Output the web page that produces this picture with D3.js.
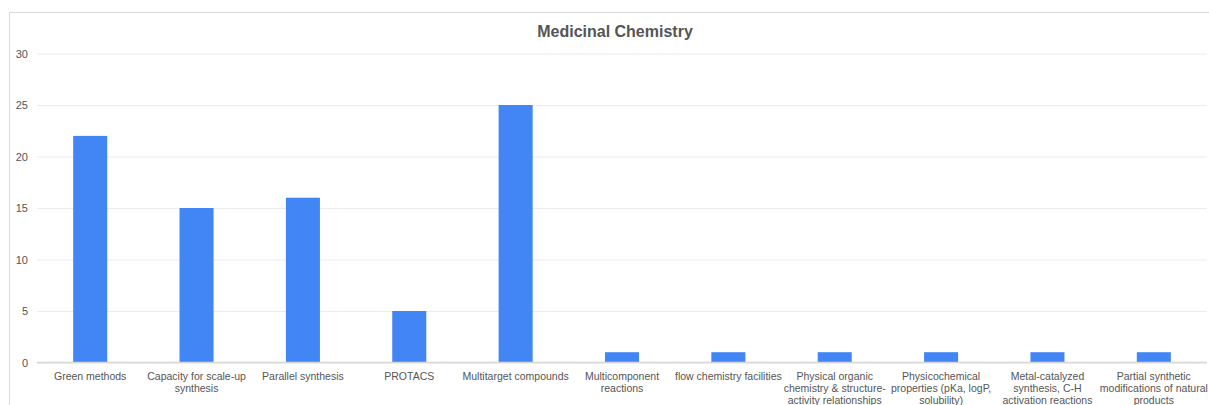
<!DOCTYPE html>
<html><head><meta charset="utf-8">
<script src="https://cdn.jsdelivr.net/npm/d3@7"></script>
<style>body{margin:0;background:#fff;}svg{display:block;font-family:Arial,"Liberation Sans",sans-serif;}</style>
</head><body><svg id="c" width="1209" height="405"></svg>
<script>
const title = "Medicinal Chemistry";
const categories = ["Green methods","Capacity for scale-up synthesis","Parallel synthesis","PROTACS","Multitarget compounds","Multicomponent reactions","flow chemistry facilities","Physical organic chemistry & structure-activity relationships","Physicochemical properties (pKa, logP, solubility)","Metal-catalyzed synthesis, C-H activation reactions","Partial synthetic modifications of natural products"];
const values = [22,15,16,5,25,1,1,1,1,1,1];
const yTicks = [0,5,10,15,20,25,30];

(function(){
const svg = d3.select("#c");
const mLeft = 37, mRight = 1207, mTop = 53.5, mBottom = 362.5;

svg.append("rect").attr("x",9.5).attr("y",12.5).attr("width",1300).attr("height",500)
  .attr("fill","none").attr("stroke","#d9d9d9").attr("stroke-width",1);

svg.append("text").attr("x",615).attr("y",37).attr("text-anchor","middle")
  .attr("font-size",16).attr("font-weight","bold").attr("fill","#555").text(title);

const x = d3.scaleBand().domain(categories).range([mLeft,mRight]).paddingInner(0.68).paddingOuter(0.34);
const y = d3.scaleLinear().domain([0,30]).range([mBottom,mTop]);

const yAxis = d3.axisLeft(y).tickValues(yTicks).tickSize(-(mRight-mLeft)).tickPadding(9);
const gy = svg.append("g").attr("transform",`translate(${mLeft},0)`).call(yAxis);
gy.select(".domain").remove();
gy.selectAll(".tick line").attr("stroke","#ebebeb");
gy.selectAll(".tick text").attr("fill","#555").attr("font-size",11).attr("font-family","Arial,'Liberation Sans',sans-serif");

svg.append("g").selectAll("rect").data(values).join("rect")
  .attr("x",(d,i)=>x(categories[i])).attr("width",x.bandwidth())
  .attr("y",d=>y(d)).attr("height",d=>y(0)-y(d)).attr("fill","#4285f4");

svg.append("line").attr("x1",mLeft).attr("x2",mRight).attr("y1",y(0)).attr("y2",y(0)).attr("stroke","#d6d6d6").attr("stroke-width",1.5);

const xAxis = d3.axisBottom(x).tickSize(0).tickPadding(0);
const gx = svg.append("g").attr("transform",`translate(0,${mBottom})`).call(xAxis);
gx.select(".domain").remove();
const maxW = 110;
gx.selectAll(".tick text").each(function(d){
  const t = d3.select(this);
  t.text(null).attr("fill","#555").attr("font-size",10.5).attr("font-family","Arial,'Liberation Sans',sans-serif").attr("y",0).attr("dy",null);
  const tokens = [];
  d.split(" ").forEach((w,wi)=>{
    const parts = w.split(/(?<=-)(?=[a-zA-Z]{3,})/);
    parts.forEach((p,pi)=>tokens.push({s:p, space: pi===0 && wi>0}));
  });
  const lines = [];
  let cur = "";
  const probe = t.append("tspan");
  tokens.forEach(tok=>{
    const cand = cur === "" ? tok.s : cur + (tok.space?" ":"") + tok.s;
    probe.text(cand);
    if (probe.node().getComputedTextLength() > maxW && cur !== "") { lines.push(cur); cur = tok.s; }
    else cur = cand;
  });
  lines.push(cur);
  probe.remove();
  lines.forEach((l,i)=>{
    t.append("tspan").attr("x",0).attr("y",17 + i*12).text(l);
  });
});
})();
</script></body></html>
